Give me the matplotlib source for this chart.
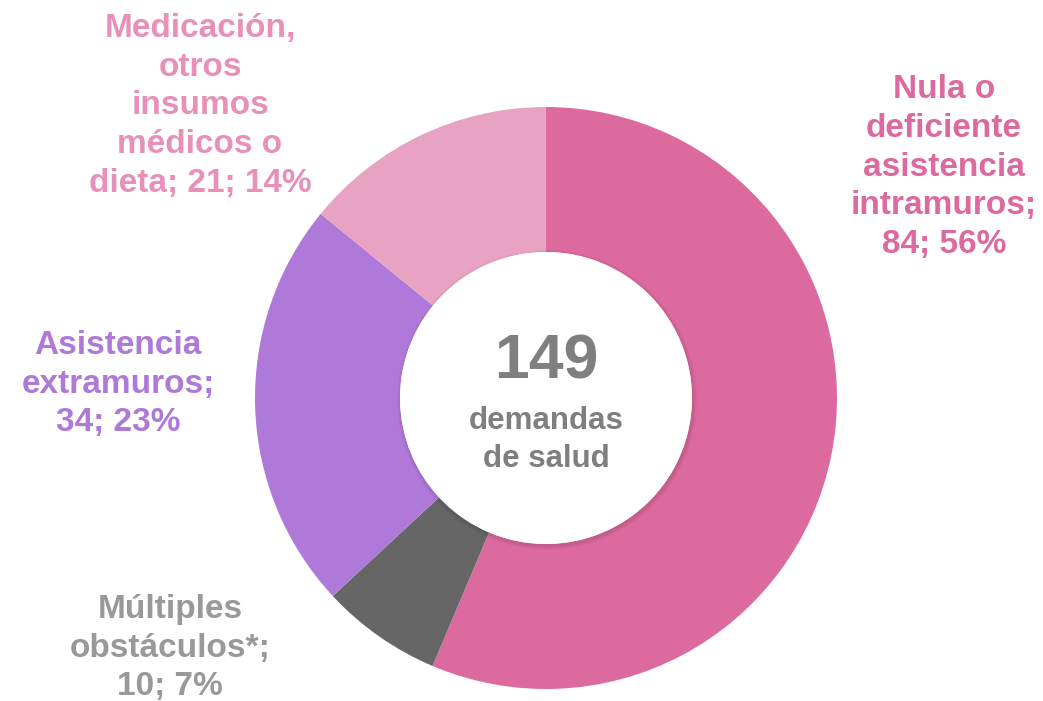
import matplotlib.pyplot as plt
from matplotlib.patches import Circle

plt.rcParams['font.family'] = ['Liberation Sans', 'DejaVu Sans']

categorias = ["Nula o\ndeficiente\nasistencia\nintramuros;\n84; 56%",
              "Múltiples\nobstáculos*;\n10; 7%",
              "Asistencia\nextramuros;\n34; 23%",
              "Medicación,\notros\ninsumos\nmédicos o\ndieta; 21; 14%"]
valores = [84, 10, 34, 21]
colores = ["#DC6A9E", "#666666", "#AF79D9", "#E8A2C2"]
colores_texto = ["#DC6A9E", "#999999", "#AF79D9", "#E890B8"]
total = sum(valores)

W, H = 1043, 701
fig = plt.figure(figsize=(W / 100, H / 100), dpi=100)
ax = fig.add_axes([0, 0, 1, 1])

cx, cy = 546, H - 398
r_ext, r_int = 291, 146

ax.pie(valores, colors=colores, startangle=90, counterclock=False,
       center=(cx, cy), radius=r_ext, frame=True,
       wedgeprops=dict(width=r_ext - r_int, linewidth=0))
ax.set_xlim(0, W)
ax.set_ylim(0, H)
ax.set_aspect("equal")
ax.axis("off")

# sombra suave del circulo central
for i, a in enumerate([0.04, 0.04, 0.03]):
    ax.add_patch(Circle((cx + 1, cy - 2), r_int + 1 + i * 1.5, color="black",
                        alpha=a, lw=0, zorder=3))
ax.add_patch(Circle((cx, cy), r_int, color="white", lw=0, zorder=4))

ax.text(cx, H - 362, str(total), ha="center", va="center", fontsize=45,
        fontweight="bold", color="#7F7F7F", zorder=5)
ax.text(cx, H - 440, "demandas\nde salud", ha="center", va="center",
        fontsize=22.5, fontweight="bold", color="#7F7F7F", linespacing=1.36,
        zorder=5)

pos_etiquetas = [(944, 167), (170, 648), (118, 384), (200, 106)]
for texto, (x, y), c in zip(categorias, pos_etiquetas, colores_texto):
    ax.text(x, H - y, texto, ha="center", va="center", fontsize=24,
            fontweight="bold", color=c, linespacing=1.32)

fig.savefig("out.png", dpi=100)
